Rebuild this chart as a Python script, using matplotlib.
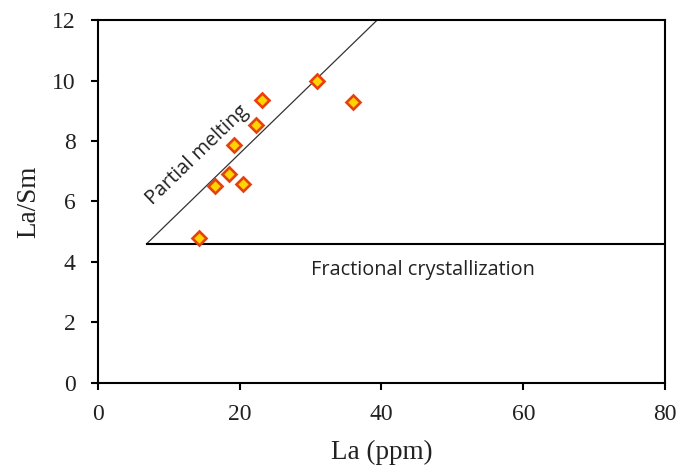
import matplotlib
matplotlib.use("Agg")
import matplotlib.pyplot as plt

la = [14.25, 16.46, 18.53, 20.50, 19.19, 22.34, 23.14, 30.86, 36.02]
la_sm = [4.78, 6.51, 6.91, 6.59, 7.87, 8.52, 9.37, 10.0, 9.28]

pm_x = [6.87, 39.4]
pm_y = [4.6, 12.0]
fc_x = [6.87, 80]
fc_y = [4.6, 4.6]

xticks = [0, 20, 40, 60, 80]
yticks = [0, 2, 4, 6, 8, 10, 12]

fig = plt.figure(figsize=(6.8, 4.71), dpi=100)
ax = fig.add_axes([0.144, 0.187, 0.834, 0.7705])

ax.plot(pm_x, pm_y, color="#333333", lw=0.9)
ax.plot(fc_x, fc_y, color="black", lw=1.5)
ax.plot(la, la_sm, linestyle="none", marker="D", markersize=7,
        markerfacecolor="#FFD400", markeredgecolor="#E8400C", markeredgewidth=1.9)

ax.set_xlim(0, 80)
ax.set_ylim(0, 12)
ax.set_xticks(xticks)
ax.set_yticks(yticks)
for s in ax.spines.values():
    s.set_linewidth(1.5)
ax.tick_params(direction="out", length=5, width=1.5, labelsize=17)
ax.tick_params(axis="x", pad=10)
ax.tick_params(axis="y", pad=11)
for lab in ax.get_xticklabels() + ax.get_yticklabels():
    lab.set_fontfamily("Liberation Serif")
    lab.set_color("#222222")

ax.set_xlabel("La (ppm)", fontfamily="Liberation Serif", fontsize=19.5,
              labelpad=11, color="#222222")
ax.set_ylabel("La/Sm", fontfamily="Liberation Serif", fontsize=19.5,
              labelpad=8, color="#222222")

ax.text(13.97, 7.53, "Partial melting", rotation=44, ha="center", va="center",
        fontfamily="Open Sans", fontsize=14.3, color="#222222")
ax.text(45.85, 3.57, "Fractional crystallization", ha="center", va="baseline",
        fontfamily="Open Sans", fontsize=14.3, color="#222222")

fig.savefig("out.png", dpi=100)
